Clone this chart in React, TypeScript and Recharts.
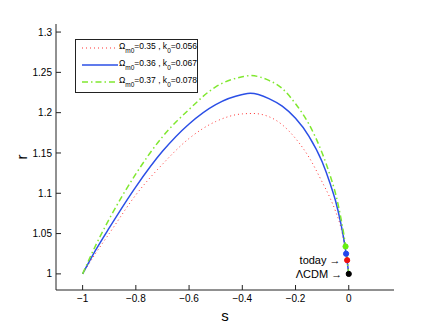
import React from 'react'
import {
  ComposedChart,
  Line,
  XAxis,
  YAxis,
  ReferenceDot,
  Label
} from 'recharts'

// valores: r(s) para tres modelos
const S_RED = [-1, -0.95, -0.9, -0.8, -0.7, -0.6, -0.5, -0.4, -0.36, -0.3, -0.25, -0.2, -0.15, -0.1, -0.07, -0.05, -0.03, -0.016, -0.006, 0]
const R_RED = [1, 1.026, 1.05, 1.098, 1.136, 1.168, 1.189, 1.1985, 1.199, 1.195, 1.185, 1.168, 1.145, 1.114, 1.094, 1.078, 1.058, 1.036, 1.017, 1]

const S_BLUE = [-1, -0.95, -0.9, -0.8, -0.7, -0.6, -0.5, -0.4, -0.37, -0.3, -0.25, -0.2, -0.15, -0.1, -0.07, -0.05, -0.03, -0.02, -0.01, 0]
const R_BLUE = [1, 1.03, 1.057, 1.108, 1.152, 1.186, 1.21, 1.2225, 1.224, 1.2175, 1.208, 1.193, 1.171, 1.139, 1.112, 1.091, 1.063, 1.046, 1.025, 1]

const S_GREEN = [-1, -0.95, -0.9, -0.8, -0.7, -0.6, -0.5, -0.4, -0.37, -0.3, -0.25, -0.2, -0.15, -0.1, -0.07, -0.05, -0.03, -0.02, -0.012, 0]
const R_GREEN = [1, 1.036, 1.068, 1.124, 1.17, 1.204, 1.232, 1.2445, 1.246, 1.24, 1.23, 1.211, 1.186, 1.15, 1.122, 1.1, 1.07, 1.052, 1.034, 1]

// puntos "today" (verde, azul, rojo) y ΛCDM
const MARK_S = [-0.012, -0.01, -0.006, 0]
const MARK_R = [1.034, 1.025, 1.017, 1]
const MARK_COLORS = ['#66ee11', '#2244ee', '#ee1111', '#000000']
const MARK_LABELS = ['', '', 'today \u2192', '\u039BCDM \u2192']

const X_TICKS = [-1, -0.8, -0.6, -0.4, -0.2, 0]
const Y_TICKS = [1, 1.05, 1.1, 1.15, 1.2, 1.25, 1.3]

const LEGEND = [
  { om: '0.35', k: '0.056', color: '#ff3333', dash: '1 3', width: 1 },
  { om: '0.36', k: '0.067', color: '#2b4fe6', dash: undefined, width: 1.5 },
  { om: '0.37', k: '0.078', color: '#80e830', dash: '6 3 1.5 3', width: 1.5 }
]

const zip = (s: number[], r: number[]) => s.map((v, i) => ({ s: v, r: r[i] }))

const FONT = '"Liberation Sans", Arial, sans-serif'
const fmtX = (v: number) => (v < 0 ? '\u2212' + String(-v) : String(v))

export default function App() {
  const tickStyle = { fontSize: 10, fill: '#000', fontFamily: FONT }
  return (
    <div style={{ position: 'absolute', left: 0, top: 0, width: 436, height: 328, background: '#fff', fontFamily: FONT }}>
      <ComposedChart width={436} height={328} margin={{ top: 24, right: 42, bottom: 0, left: 0 }}>
        <XAxis
          xAxisId="b"
          dataKey="s"
          type="number"
          domain={[-1.1, 0.17]}
          ticks={X_TICKS}
          tickFormatter={fmtX}
          height={38}
          tickSize={-5}
          tickMargin={10}
          stroke="#222"
          tick={tickStyle}
          allowDataOverflow
        >
          <Label value="s" position="insideBottom" offset={7} style={{ fontSize: 15, fill: '#000', fontFamily: FONT }} />
        </XAxis>
        <XAxis
          xAxisId="t"
          orientation="top"
          dataKey="s"
          type="number"
          domain={[-1.1, 0.17]}
          ticks={X_TICKS}
          height={0}
          tickSize={-5}
          tick={false}
          stroke="#222"
          allowDataOverflow
        />
        <YAxis
          yAxisId="l"
          type="number"
          domain={[0.98, 1.31]}
          ticks={Y_TICKS}
          width={56}
          tickSize={-5}
          tickMargin={9}
          stroke="#222"
          tick={tickStyle}
          allowDataOverflow
        >
          <Label value="r" angle={-90} position="insideLeft" offset={22} style={{ fontSize: 15, fill: '#000', fontFamily: FONT, textAnchor: 'middle' }} />
        </YAxis>
        <YAxis
          yAxisId="r"
          orientation="right"
          type="number"
          domain={[0.98, 1.31]}
          ticks={Y_TICKS}
          width={0}
          tickSize={-5}
          tick={false}
          stroke="#222"
          allowDataOverflow
        />
        <Line
          xAxisId="b"
          yAxisId="l"
          data={zip(S_RED, R_RED)}
          dataKey="r"
          type="monotone"
          stroke="#ff3333"
          strokeWidth={1}
          strokeDasharray="1 3"
          dot={false}
          isAnimationActive={false}
        />
        <Line
          xAxisId="b"
          yAxisId="l"
          data={zip(S_BLUE, R_BLUE)}
          dataKey="r"
          type="monotone"
          stroke="#2b4fe6"
          strokeWidth={1.5}
          dot={false}
          isAnimationActive={false}
        />
        <Line
          xAxisId="b"
          yAxisId="l"
          data={zip(S_GREEN, R_GREEN)}
          dataKey="r"
          type="monotone"
          stroke="#80e830"
          strokeWidth={1.5}
          strokeDasharray="6 3 1.5 3"
          dot={false}
          isAnimationActive={false}
        />
        {MARK_S.map((s, i) => (
          <ReferenceDot
            key={i}
            xAxisId="b"
            yAxisId="l"
            x={s}
            y={MARK_R[i]}
            r={2.6}
            fill={MARK_COLORS[i]}
            stroke={MARK_COLORS[i]}
            label={MARK_LABELS[i] ? { value: MARK_LABELS[i], position: 'left', offset: 4, style: { fontSize: 11, fill: '#000', fontFamily: FONT } } : undefined}
          />
        ))}
      </ComposedChart>
      <div
        style={{
          position: 'absolute',
          left: 75,
          top: 39,
          width: 121,
          height: 52,
          border: '1px solid #222',
          background: '#fff',
          fontSize: 8.5,
          color: '#000'
        }}
      >
        {LEGEND.map((it, i) => (
          <div key={i} style={{ position: 'absolute', left: 0, top: 1 + i * 17, height: 15, width: 121, display: 'flex', alignItems: 'center' }}>
            <svg width={38} height={10} style={{ marginLeft: 5 }}>
              <line x1={1} y1={4} x2={37} y2={4} stroke={it.color} strokeWidth={it.width} strokeDasharray={it.dash} />
            </svg>
            <span style={{ whiteSpace: 'nowrap', lineHeight: '10px' }}>
              {'\u03A9'}
              <sub style={{ fontSize: 6.5, verticalAlign: -4 }}>m0</sub>
              {'=' + it.om + ' , k'}
              <sub style={{ fontSize: 6.5, verticalAlign: -4 }}>0</sub>
              {'=' + it.k}
            </span>
          </div>
        ))}
      </div>
    </div>
  )
}
